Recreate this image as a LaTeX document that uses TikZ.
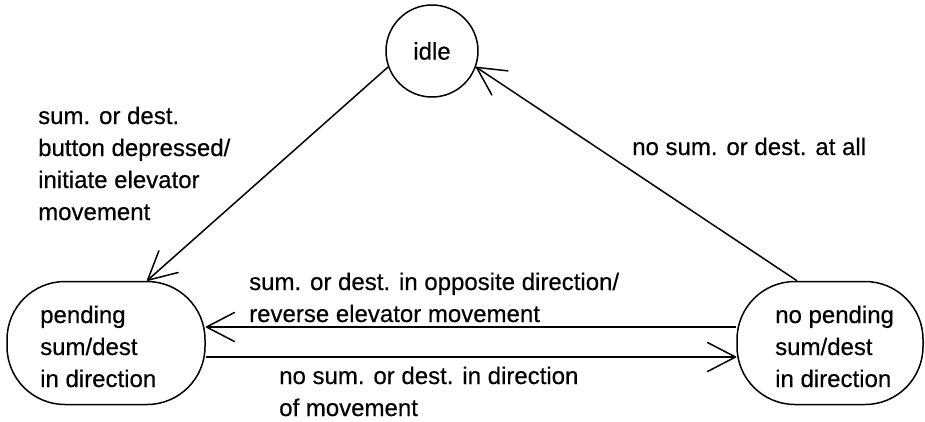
\documentclass[tikz,border=0pt]{standalone}
\usepackage{fontspec}
\setmainfont[FakeBold=0.4]{Liberation Sans}
\usetikzlibrary{arrows.meta}
\begin{document}
\begin{tikzpicture}[x=1pt,y=-1pt,
  every node/.style={font=\fontsize{24}{32}\selectfont},
  state/.style={draw,line width=1.5pt},
  pill/.style={state,rectangle,rounded corners=58pt,minimum width=#1,minimum height=123pt,inner sep=0pt},
  trans/.style={line width=1.5pt,line join=round,
    -{Straight Barb[length=28pt,width=29pt,line join=round,line cap=round]}},
  lbl/.style={align=left,anchor=base west,inner sep=0pt}]
\useasboundingbox (0,0) rectangle (925,421);

% states
\node[state,circle,minimum size=92pt,inner sep=0pt] (idle) at (432,51) {idle};
\node[pill=198pt] (pend) at (106,343) {};
\node[pill=186pt] (np) at (830,343) {};

% state texts (anchored at the baseline of their last line)
\node[lbl] (pendtxt) at (40,387) {pending\\sum/dest\\in direction};
\node[lbl] (nptxt) at (775,387) {no pending\\sum/dest\\in direction};

% transitions
\draw[trans] (idle.200) -- ([xshift=41pt]pend.north);
\draw[trans] ([xshift=-33pt]np.north) -- (idle.340);
\draw[trans] ([yshift=16pt]np.west) coordinate (u1) -- (u1 -| pend.east);
\draw[trans] ([yshift=-14pt]pend.east) coordinate (l1) -- (l1 -| np.west);

% transition labels
\node[lbl] (t1) at (38,220) {sum. or dest.\\button depressed/\\initiate elevator\\movement};
\node[lbl] (t2) at (632,155) {no sum. or dest. at all};
\node[lbl] (t3) at (249,322) {sum. or dest. in opposite direction/\\reverse elevator movement};
\node[lbl] (t4) at (279,416) {no sum. or dest. in direction\\of movement};
\end{tikzpicture}
\end{document}
